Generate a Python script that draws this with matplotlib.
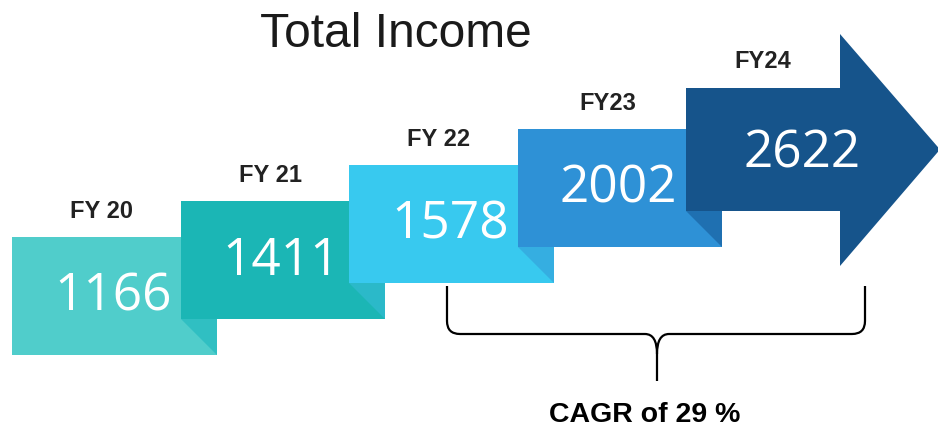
import matplotlib.pyplot as plt
from matplotlib.patches import Rectangle, Polygon, PathPatch
from matplotlib.path import Path

# data
years = ['FY 20', 'FY 21', 'FY 22', 'FY23', 'FY24']
income = [1166, 1411, 1578, 2002, 2622]
title = 'Total Income'
cagr_text = 'CAGR of 29 %'

box_colors = ['#50cdcb', '#1bb6b5', '#38c9ef', '#2e91d6', '#16548b']
fold_colors = ['#30bfc2', '#2bb9c9', '#35aee1', '#1f70b1']

# layout in pixels (y goes down)
x0, step_x = 12, 168.5
top0, step_y = 238, 36
box_h, fold_w = 118, 36

fig = plt.figure(figsize=(9.38, 4.27), dpi=100)
ax = fig.add_axes([0, 0, 1, 1])
ax.set_xlim(0, 938)
ax.set_ylim(427, 0)
ax.axis('off')

val_font = dict(family='Open Sans', size=37, color='white', ha='center', va='baseline')
lab_font = dict(family='Liberation Sans', size=17, weight='bold', color='#222222',
                ha='center', va='baseline')

n = len(income)
for i in range(n):
    L = x0 + i * step_x
    T = top0 - i * step_y
    if i < n - 1:
        ax.add_patch(Rectangle((L, T), step_x + fold_w, box_h,
                               facecolor=box_colors[i], edgecolor='none', zorder=2 + i))
        fx = L + step_x
        fold = [(fx, T - step_y + box_h), (fx + fold_w, T - step_y + box_h),
                (fx + fold_w, T + box_h)]
        ax.add_patch(Polygon(fold, closed=True, facecolor=fold_colors[i],
                             edgecolor='none', zorder=2 + i))
        ax.text(L + 101, T + 73, str(income[i]), zorder=10, **val_font)
        ax.text(L + 90, T - 20, years[i], zorder=10, **lab_font)
    else:
        # last one is an arrow
        rt, rb = T - 5, T + 118
        hx, tip = L + 154, 940
        mid = (rt + rb) / 2
        pts = [(L, rt), (hx, rt), (hx, 35), (tip, mid), (hx, 267), (hx, rb), (L, rb)]
        ax.add_patch(Polygon(pts, closed=True, facecolor=box_colors[i],
                             edgecolor='none', zorder=2 + i))
        ax.text(L + 116, T + 74, str(income[i]), zorder=10, **val_font)
        ax.text(L + 77, T - 26, years[i], zorder=10, **lab_font)

ax.text(396, 47, title, family='Liberation Sans', size=34.5, color='#1a1a1a',
        ha='center', va='baseline')

# curly bracket under FY22..FY24
bl, br, bc = 447, 865, 657
by_top, by, by_bot = 287, 335, 382
verts = [(bl, by_top), (bl, by - 13), (bl, by), (bl + 13, by), (bc - 12, by),
         (bc, by), (bc, by + 20), (bc, by_bot)]
codes = [Path.MOVETO, Path.LINETO, Path.CURVE3, Path.CURVE3, Path.LINETO,
         Path.CURVE3, Path.CURVE3, Path.LINETO]
ax.add_patch(PathPatch(Path(verts, codes), facecolor='none', edgecolor='black', lw=1.6))
verts = [(br, by_top), (br, by - 13), (br, by), (br - 13, by), (bc + 12, by),
         (bc, by), (bc, by + 20)]
codes = [Path.MOVETO, Path.LINETO, Path.CURVE3, Path.CURVE3, Path.LINETO,
         Path.CURVE3, Path.CURVE3]
ax.add_patch(PathPatch(Path(verts, codes), facecolor='none', edgecolor='black', lw=1.6))

ax.text(645, 422, cagr_text, family='Liberation Sans', size=20.5, weight='bold',
        color='black', ha='center', va='baseline')

plt.savefig('out.png', dpi=100)
